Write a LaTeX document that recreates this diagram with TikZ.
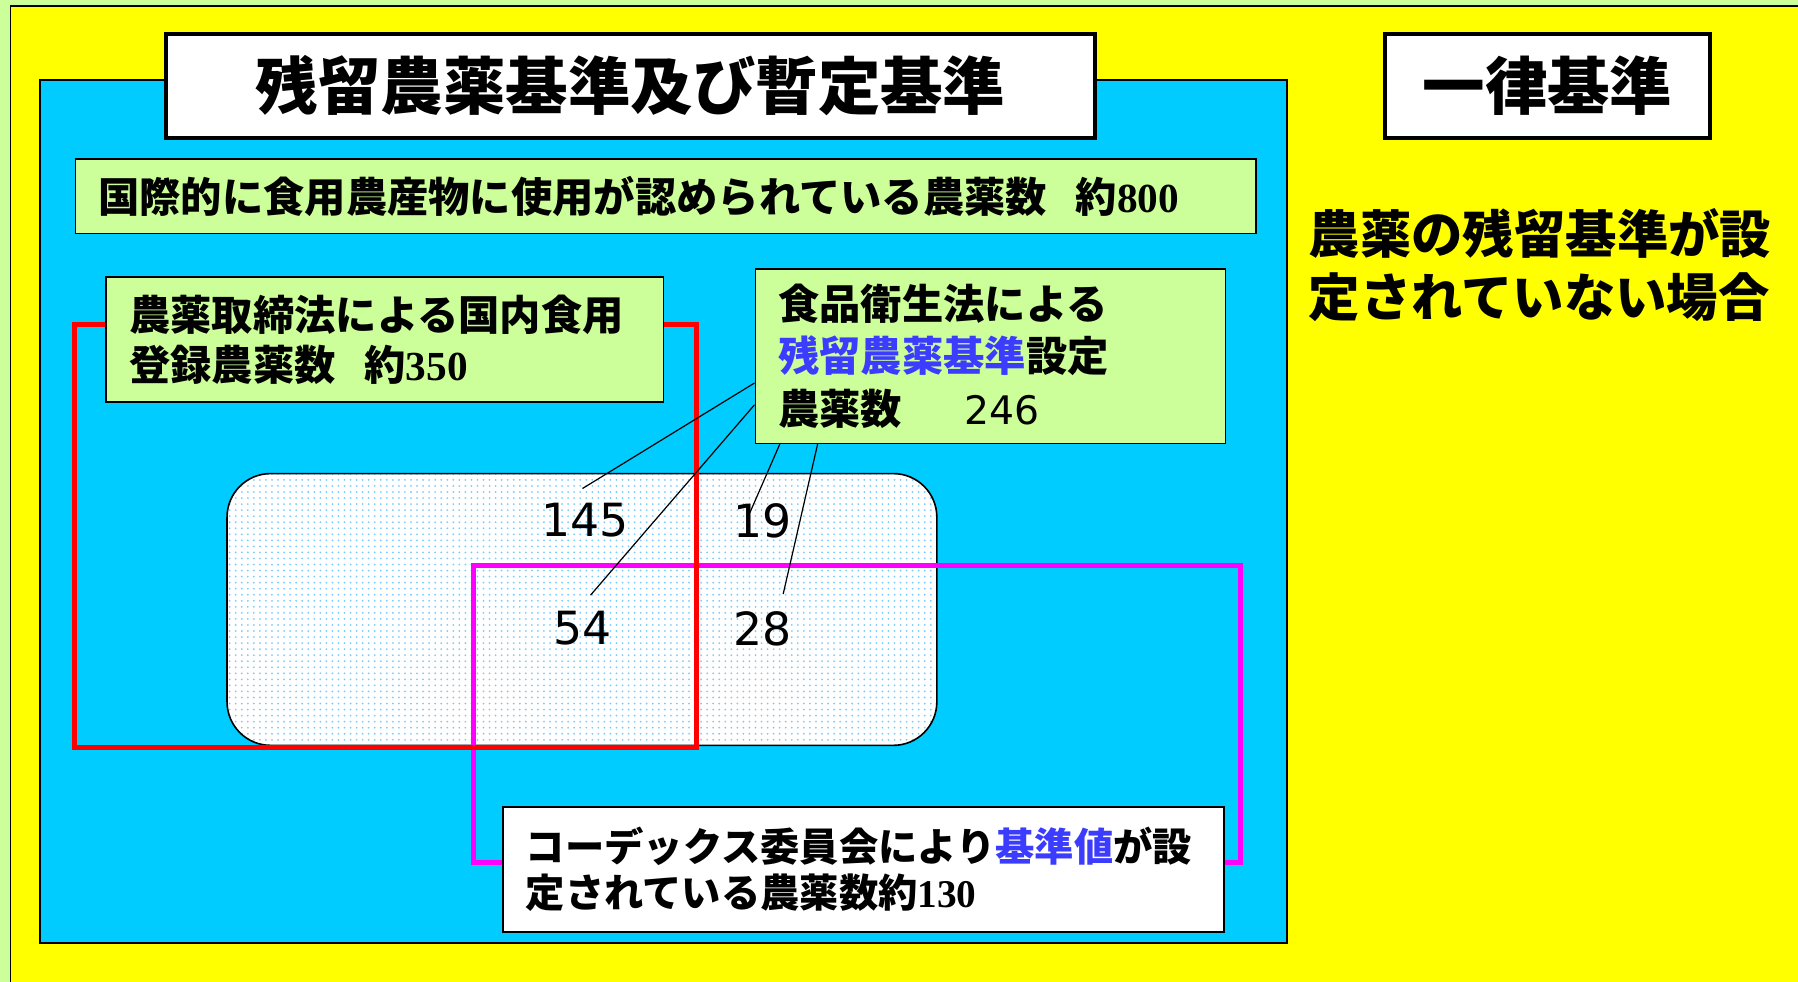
\documentclass[tikz,border=0pt]{standalone}
\usepackage{fontspec}
\setmainfont{Noto Sans CJK JP}
\newfontfamily\numfont{DejaVu Sans}
\newfontfamily\serifnum{Liberation Serif}
\usetikzlibrary{patterns,calc}

\definecolor{bgreen}{RGB}{204,255,153}
\definecolor{byellow}{RGB}{255,255,0}
\definecolor{bcyan}{RGB}{0,204,255}
\definecolor{bmagenta}{RGB}{255,0,255}
\definecolor{bblue}{RGB}{60,60,255}
\definecolor{dotblue}{RGB}{120,205,255}

\tikzstyle{headbox} = [draw, line width=2pt, fill=white, minimum height=1.8cm, inner sep=0pt, font=\bfseries\fontsize{31}{36}\selectfont]
\tikzstyle{infobox} = [draw, line width=0.8pt, fill=bgreen, anchor=north west, inner xsep=0.4cm, inner ysep=0pt, align=left, font=\bfseries\fontsize{20.5}{25}\selectfont]
\tikzstyle{count} = [inner sep=1pt, font=\numfont\fontsize{22.7}{26}\selectfont]

\begin{document}
\begin{tikzpicture}[x=0.02cm,y=-0.02cm]
\useasboundingbox (0,0) rectangle (1568,856);
\fill[bgreen] (0,0) rectangle (1568,856);
\fill[byellow] (9,5) rectangle (1568,856);
\draw[line width=0.8pt] (9,856) -- (9,5) -- (1568,5);

\draw[line width=1pt, fill=bcyan] (35,70) rectangle (1122,822);
\node[headbox, minimum width=16.2cm] (title) at (550,75) {残留農薬基準及び暫定基準};
\node[headbox, minimum width=5.66cm] (uniform) at (1349.5,75) {一律基準};
\node[anchor=west, align=left, inner sep=0pt, font=\bfseries\fontsize{25.5}{31}\selectfont] (nocase) at (1141,231) {農薬の残留基準が設\\定されていない場合};

\node[infobox, text width=19.8cm, minimum height=1.3cm] (world) at (65,138) {国際的に食用農産物に使用が認められている農薬数\hspace{0.7em}約{\serifnum 800}};

\draw[line width=0.8pt, rounded corners=0.76cm, preaction={fill=white}, pattern=dots, pattern color=dotblue] (198,413) rectangle (817,650);
\draw[bmagenta, line width=2.5pt] (413,493) rectangle (1082,752);
\draw[red, line width=2.5pt] (65,283) rectangle (607,652);

\node[infobox, text width=8.92cm, minimum height=2.18cm] (reg) at (92,241) {農薬取締法による国内食用\\登録農薬数\hspace{0.7em}約{\serifnum 350}};
\node[infobox, text width=7.4cm, minimum height=3.04cm, font=\bfseries\fontsize{20.5}{26}\selectfont] (std) at (658,234) {食品衛生法による\\{\color{bblue}残留農薬基準}設定\\農薬数\hspace{1.5em}{\mdseries\numfont\fontsize{19.5}{26}\selectfont 246}};
\node[infobox, fill=white, text width=11.78cm, minimum height=2.18cm, font=\bfseries\fontsize{19.5}{22.8}\selectfont] (codex) at (438,703) {コーデックス委員会により{\color{bblue}基準値}が設\\定されている農薬数約{\serifnum 130}};

\node[count] (n145) at (510,454) {145};
\node[count] (n19) at (665,454) {19};
\node[count] (n54) at (508,548) {54};
\node[count] (n28) at (665,548) {28};

\coordinate (e145) at (508,426);
\coordinate (e54) at (515,519);
\coordinate (e19) at (654,447);
\coordinate (e28) at (683,518);
\draw[line width=0.6pt] ($(std.north west)+(0,100)$) -- (e145);
\draw[line width=0.6pt] ($(std.north west)+(0,119)$) -- (e54);
\draw[line width=0.6pt] ($(std.south west)+(22,0)$) -- (e19);
\draw[line width=0.6pt] ($(std.south west)+(55,0)$) -- (e28);
\end{tikzpicture}
\end{document}
